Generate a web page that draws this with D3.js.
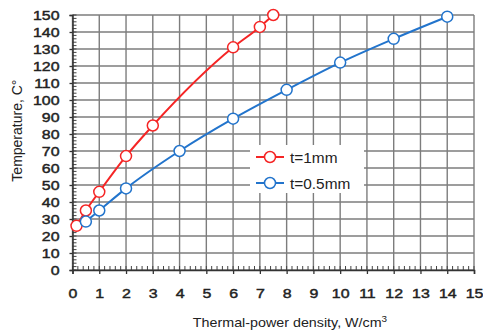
<!DOCTYPE html>
<html>
<head>
<meta charset="utf-8">
<script src="https://cdn.jsdelivr.net/npm/d3@7"></script>
<style>
  body { margin: 0; background: #fff; }
  text { font-family: "Liberation Sans", Arial, sans-serif; fill: #222; }
</style>
</head>
<body>
<div id="d3-container"></div>
<script>
/**
 * CONSTANTS AND GLOBALS
 * */
const width = 483,
    height = 331,
    margin = { top: 15, bottom: 61, left: 72.5, right: 9 },
    radius = 5.5,
    stretch = 1.18; // the picture's text looks a bit wide

// data
const redX = [0.15, 0.5, 1, 2, 3, 6, 7, 7.5];
const redY = [26, 35, 46, 67, 85, 131, 143, 150];
const blueX = [0.5, 1, 2, 4, 6, 8, 10, 12, 14];
const blueY = [28.5, 35, 48, 70, 89, 106, 122, 136, 149];
const seriesNames = ["t=1mm", "t=0.5mm"];
const seriesColors = ["#f52525", "#2274cc"];
const xTicks = d3.range(0, 16, 1);
const yTicks = d3.range(0, 151, 10);

const series = [
    { name: seriesNames[0], color: seriesColors[0], pts: redX.map((x, i) => [x, redY[i]]) },
    { name: seriesNames[1], color: seriesColors[1], pts: blueX.map((x, i) => [x, blueY[i]]) },
];

const svg = d3.select("#d3-container")
    .append("svg")
    .attr("width", width)
    .attr("height", height);

const xScale = d3.scaleLinear().domain([0, 15]).range([margin.left, width - margin.right]);
const yScale = d3.scaleLinear().domain([0, 150]).range([height - margin.bottom, margin.top]);

// grid
svg.append("g")
    .selectAll("line")
    .data(xTicks)
    .join("line")
    .attr("x1", d => xScale(d)).attr("x2", d => xScale(d))
    .attr("y1", yScale(0)).attr("y2", yScale(150))
    .attr("stroke", "#7d7d7d").attr("stroke-width", 1.4);
svg.append("g")
    .selectAll("line")
    .data(yTicks)
    .join("line")
    .attr("x1", xScale(0)).attr("x2", xScale(15))
    .attr("y1", d => yScale(d)).attr("y2", d => yScale(d))
    .attr("stroke", "#7d7d7d").attr("stroke-width", 1.4);

// minor ticks
svg.append("g")
    .selectAll("line")
    .data(d3.range(0, 15.01, 0.2))
    .join("line")
    .attr("x1", d => xScale(d)).attr("x2", d => xScale(d))
    .attr("y1", yScale(0)).attr("y2", yScale(0) - 4)
    .attr("stroke", "#444").attr("stroke-width", 1);
svg.append("g")
    .selectAll("line")
    .data(d3.range(0, 150.1, 2))
    .join("line")
    .attr("x1", xScale(0)).attr("x2", xScale(0) + 4)
    .attr("y1", d => yScale(d)).attr("y2", d => yScale(d))
    .attr("stroke", "#444").attr("stroke-width", 1);

// axes
const xAxis = d3.axisBottom(xScale).tickValues(xTicks).tickSize(4).tickPadding(14);
const yAxis = d3.axisLeft(yScale).tickValues(yTicks).tickSize(3).tickPadding(10);

const gx = svg.append("g")
    .attr("transform", `translate(0,${yScale(0)})`)
    .call(xAxis);
const gy = svg.append("g")
    .attr("transform", `translate(${xScale(0)},0)`)
    .call(yAxis);
[gx, gy].forEach(g => {
    g.select(".domain").attr("stroke", "#333").attr("stroke-width", 1.5);
    g.selectAll(".tick line").attr("stroke", "#333").attr("stroke-width", 1.3);
    g.selectAll("text")
        .attr("font-family", "Liberation Sans, Arial, sans-serif")
        .attr("fill", "#222")
        .attr("stroke", "#222")
        .attr("stroke-width", 0.45)
        .attr("transform", `scale(${stretch},1)`);
});
gx.selectAll("text").attr("font-size", 13.5);
gy.selectAll("text").attr("font-size", 13.5)
    .attr("x", -13 / stretch);

// axis titles
svg.append("text")
    .attr("transform", `scale(1.1,1)`)
    .attr("x", 290 / 1.1).attr("y", 327)
    .attr("text-anchor", "middle")
    .attr("font-size", 13)
    .html("Thermal-power density, W/cm<tspan dy='-5' font-size='9'>3</tspan>");
svg.append("text")
    .attr("transform", `translate(22,${yScale(82)}) rotate(-90)`)
    .attr("text-anchor", "middle")
    .attr("font-size", 14)
    .text("Temperature, C°");

// lines + markers
const line = d3.line()
    .x(d => xScale(d[0]))
    .y(d => yScale(d[1]))
    .curve(d3.curveMonotoneX);

series.forEach(s => {
    svg.append("path")
        .datum(s.pts)
        .attr("d", line)
        .attr("fill", "none")
        .attr("stroke", s.color)
        .attr("stroke-width", 2);
    svg.append("g")
        .selectAll("circle")
        .data(s.pts)
        .join("circle")
        .attr("cx", d => xScale(d[0]))
        .attr("cy", d => yScale(d[1]))
        .attr("r", radius)
        .attr("fill", "#fff")
        .attr("stroke", s.color)
        .attr("stroke-width", 1.5);
});

// legend
const legend = svg.append("g").attr("transform", "translate(250,145)");
legend.append("rect")
    .attr("width", 114).attr("height", 48)
    .attr("fill", "#fff");
series.forEach((s, i) => {
    const row = legend.append("g").attr("transform", `translate(0,${12 + i * 26})`);
    row.append("line")
        .attr("x1", 6).attr("x2", 34)
        .attr("stroke", s.color).attr("stroke-width", 2);
    row.append("circle")
        .attr("cx", 20).attr("r", radius)
        .attr("fill", "#fff").attr("stroke", s.color).attr("stroke-width", 1.5);
    row.append("text")
        .attr("transform", "scale(1.1,1)")
        .attr("x", 40 / 1.1).attr("y", 5.5)
        .attr("font-size", 14)
        .text(s.name);
});
</script>
</body>
</html>
